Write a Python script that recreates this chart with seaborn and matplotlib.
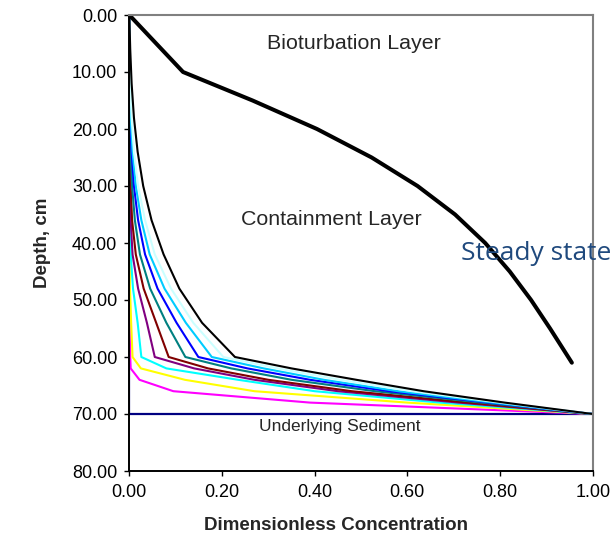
import numpy as np
import pandas as pd
import matplotlib
matplotlib.use("Agg")
import matplotlib.pyplot as plt
import seaborn as sns

# ---------------- data ----------------
DEPTH = [0, 6, 12, 18, 24, 30, 36, 42, 48, 54, 60, 62, 64, 66, 68, 70]

CONC_BLACK = [0, 0.002, 0.005, 0.010, 0.018, 0.030, 0.048, 0.074, 0.108, 0.157, 0.228, 0.35, 0.49, 0.635, 0.81, 1.0]
CONC_LIGHTCYAN = [0, 0.001, 0.002, 0.005, 0.010, 0.019, 0.034, 0.055, 0.090, 0.138, 0.203, 0.32, 0.455, 0.61, 0.80, 1.0]
CONC_SKYBLUE = [0, 0, 0.001, 0.003, 0.007, 0.014, 0.026, 0.044, 0.076, 0.122, 0.178, 0.29, 0.42, 0.58, 0.785, 1.0]
CONC_BLUE = [0, 0, 0.001, 0.002, 0.005, 0.010, 0.019, 0.034, 0.061, 0.102, 0.149, 0.255, 0.39, 0.56, 0.775, 1.0]
CONC_TEAL = [0, 0, 0, 0.001, 0.003, 0.006, 0.012, 0.023, 0.045, 0.080, 0.121, 0.22, 0.35, 0.53, 0.76, 1.0]
CONC_MAROON = [0, 0, 0, 0, 0.001, 0.003, 0.006, 0.014, 0.031, 0.058, 0.085, 0.17, 0.30, 0.48, 0.73, 1.0]
CONC_PURPLE = [0, 0, 0, 0, 0, 0.001, 0.003, 0.007, 0.019, 0.038, 0.055, 0.14, 0.27, 0.45, 0.71, 1.0]
CONC_CYAN = [0, 0, 0, 0, 0, 0, 0.001, 0.003, 0.008, 0.018, 0.026, 0.08, 0.235, 0.40, 0.67, 1.0]
CONC_YELLOW = [0, 0, 0, 0, 0, 0, 0, 0.0005, 0.0015, 0.004, 0.007, 0.025, 0.12, 0.27, 0.60, 1.0]
CONC_MAGENTA = [0, 0, 0, 0, 0, 0, 0, 0, 0, 0.0005, 0.002, 0.003, 0.022, 0.095, 0.39, 1.0]

SS_DEPTH = [0, 10, 15, 20, 25, 30, 35, 40, 45, 50, 55, 61]
SS_CONC = [0, 0.116, 0.266, 0.405, 0.523, 0.622, 0.703, 0.768, 0.821, 0.867, 0.908, 0.955]

SED_DEPTH = [0, 70, 70]
SED_CONC = [0, 0, 1]

SERIES = ["magenta", "yellow", "cyan", "purple", "maroon", "teal",
          "blue", "skyblue", "lightcyan", "black"]
SERIES_CONC = [CONC_MAGENTA, CONC_YELLOW, CONC_CYAN, CONC_PURPLE, CONC_MAROON,
               CONC_TEAL, CONC_BLUE, CONC_SKYBLUE, CONC_LIGHTCYAN, CONC_BLACK]
PALETTE = {"magenta": "#FF00FF", "yellow": "#FFFF00", "cyan": "#00FFFF",
           "purple": "#800080", "maroon": "#800000", "teal": "#008080",
           "blue": "#0000FF", "skyblue": "#00CCFF", "lightcyan": "#CCFFFF",
           "black": "#000000"}

X_TICKS = [0.0, 0.2, 0.4, 0.6, 0.8, 1.0]
Y_TICKS = [0, 10, 20, 30, 40, 50, 60, 70, 80]

# ---------------- plot ----------------
sns.set_style("ticks")
plt.rcParams['font.family'] = ['Liberation Sans', 'DejaVu Sans']
plt.rcParams['lines.solid_joinstyle'] = 'round'
plt.rcParams['lines.solid_capstyle'] = 'round'

W, H = 614, 536
fig = plt.figure(figsize=(W / 100, H / 100), dpi=100)
L, R, T, B = 129.3, 592.7, 15.0, 471.0
ax = fig.add_axes([L / W, (H - B) / H, (R - L) / W, (B - T) / H])

rows = []
for name, conc in zip(SERIES, SERIES_CONC):
    for i, (c, d) in enumerate(zip(conc, DEPTH)):
        rows.append({"series": name, "conc": c, "depth": d, "order": i})
df = pd.DataFrame(rows)

sns.lineplot(x=SED_CONC, y=SED_DEPTH, sort=False, estimator=None,
             color="#000080", lw=1.6, ax=ax)
sns.lineplot(data=df, x="conc", y="depth", hue="series", hue_order=SERIES,
             palette=PALETTE, sort=False, estimator=None, lw=1.5,
             legend=False, ax=ax)
sns.lineplot(x=SS_CONC, y=SS_DEPTH, sort=False, estimator=None,
             color="black", lw=2.9, ax=ax)

ax.set_xlim(0, 1)
ax.set_ylim(80, 0)
ax.set_xticks(X_TICKS)
ax.set_xticklabels([f"{v:.2f}" for v in X_TICKS])
ax.set_yticks(Y_TICKS)
ax.set_yticklabels([f"{v:.2f}" for v in Y_TICKS])
ax.tick_params(axis="both", direction="out", length=3.6, width=1.0,
               labelsize=13, colors="black")
ax.tick_params(axis="x", pad=6)
ax.tick_params(axis="y", pad=5)

for s in ["top", "right"]:
    ax.spines[s].set_color("#808080")
    ax.spines[s].set_linewidth(1.5)
for s in ["left", "bottom"]:
    ax.spines[s].set_color("#000000")
    ax.spines[s].set_linewidth(1.4)

ax.set_xlabel("Dimensionless Concentration", fontsize=13.5, fontweight="bold")
ax.xaxis.set_label_coords(0.446, -0.101)
ax.set_ylabel("Depth, cm", fontsize=13.5, fontweight="bold")
ax.yaxis.set_label_coords(-0.170, 0.5)

ax.text(0.2965, 6.0, "Bioturbation Layer", fontsize=15.4, va="baseline", ha="left")
ax.text(0.240, 36.8, "Containment Layer", fontsize=15.4, va="baseline", ha="left")
ax.text(0.2805, 72.9, "Underlying Sediment", fontsize=12.5, va="baseline", ha="left")
ax.text(0.716, 43.0, "Steady state", fontsize=19, va="baseline", ha="left",
        color="#1F497D", family=["Open Sans", "DejaVu Sans"])

fig.savefig("out.png", dpi=100)
